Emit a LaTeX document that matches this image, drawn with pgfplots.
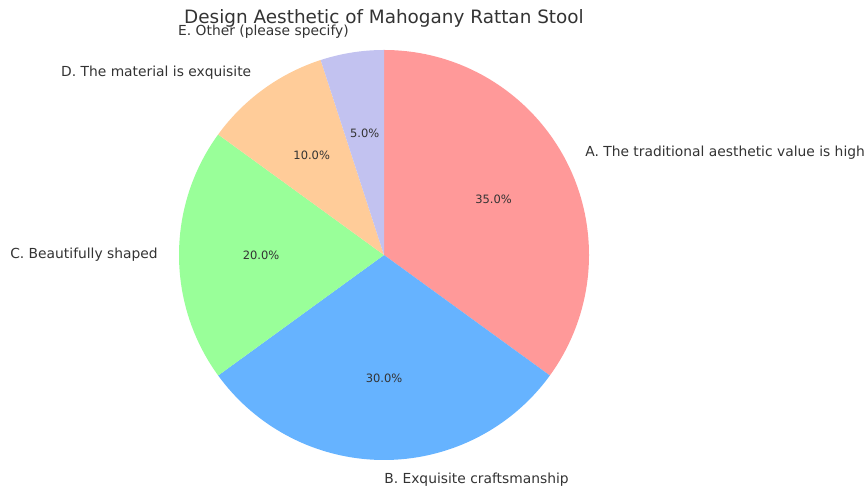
\documentclass[border=0pt]{standalone}
\usepackage{pgfplots}
\pgfplotsset{compat=1.18}
\usepackage{pgfplotstable}
\usetikzlibrary{calc}
\usepackage{fontspec}
\setmainfont{DejaVu Sans}
\definecolor{cA}{HTML}{FF9999}
\definecolor{cB}{HTML}{66B3FF}
\definecolor{cC}{HTML}{99FF99}
\definecolor{cD}{HTML}{FFCC99}
\definecolor{cE}{HTML}{C2C2F0}
\definecolor{txt}{HTML}{333333}
\pgfplotstableread{
idx value
0 35
1 30
2 20
3 10
4 5
}\piedata
% compute slice angles (clockwise from 90 degrees)
\newcommand\computeangles{%
  \gdef\curang{90}%
  \foreach \i in {0,...,4}{%
    \pgfplotstablegetelem{\i}{value}\of\piedata
    \pgfmathsetmacro\v{\pgfplotsretval}%
    \pgfmathsetmacro\ea{\curang-3.6*\v}%
    \pgfmathsetmacro\ma{\curang-1.8*\v}%
    \expandafter\xdef\csname sa\i\endcsname{\curang}%
    \expandafter\xdef\csname ea\i\endcsname{\ea}%
    \expandafter\xdef\csname ma\i\endcsname{\ma}%
    \expandafter\xdef\csname pv\i\endcsname{\v}%
    \xdef\curang{\ea}%
  }%
}
\computeangles
\begin{document}
\begin{tikzpicture}
\begin{axis}[
  name=ax,
  x=0.72bp, y=0.72bp,
  xmin=0, xmax=867, ymin=0, ymax=492,
  axis lines=none, ticks=none,
  clip=false,
]
\pgfplotsinvokeforeach{0,...,4}{
  \edef\tmp{\noexpand\fill[fill=\ifcase#1 cA\or cB\or cC\or cD\or cE\fi]
    (axis cs:384,237) -- ++(\csname sa#1\endcsname:147.6bp)
    arc[start angle=\csname sa#1\endcsname, end angle=\csname ea#1\endcsname, radius=147.6bp] -- cycle;}
  \tmp
  \edef\tmp{\noexpand\node[font=\noexpand\fontsize{8.3}{10}\noexpand\selectfont, text=txt, anchor=center, inner sep=0pt]
    at ($(axis cs:384,237)+(\csname ma#1\endcsname:88.56bp)$) {\noexpand\pgfmathprintnumber[fixed,fixed zerofill,precision=1,assume math mode=true]{\csname pv#1\endcsname}\noexpand\%};}
  \tmp
}
\node[font=\fontsize{10}{12}\selectfont, text=txt, anchor=west, inner sep=0pt] at (axis cs:585,339) {A. The traditional aesthetic value is high};
\node[font=\fontsize{10}{12}\selectfont, text=txt, anchor=west, inner sep=0pt] at (axis cs:384,12) {B. Exquisite craftsmanship};
\node[font=\fontsize{10}{12}\selectfont, text=txt, anchor=east, inner sep=0pt] at (axis cs:158,237) {C. Beautifully shaped};
\node[font=\fontsize{10}{12}\selectfont, text=txt, anchor=east, inner sep=0pt] at (axis cs:251.5,419) {D. The material is exquisite};
\node[font=\fontsize{10}{12}\selectfont, text=txt, anchor=east, inner sep=0pt] at (axis cs:349,460) {E. Other (please specify)};
\node[font=\fontsize{13.3}{16}\selectfont, text=txt, anchor=center, inner sep=0pt] at (axis cs:384,474) {Design Aesthetic of Mahogany Rattan Stool};
\end{axis}
\pgfresetboundingbox
\path (ax.south west) rectangle (ax.north east);
\end{tikzpicture}
\end{document}
